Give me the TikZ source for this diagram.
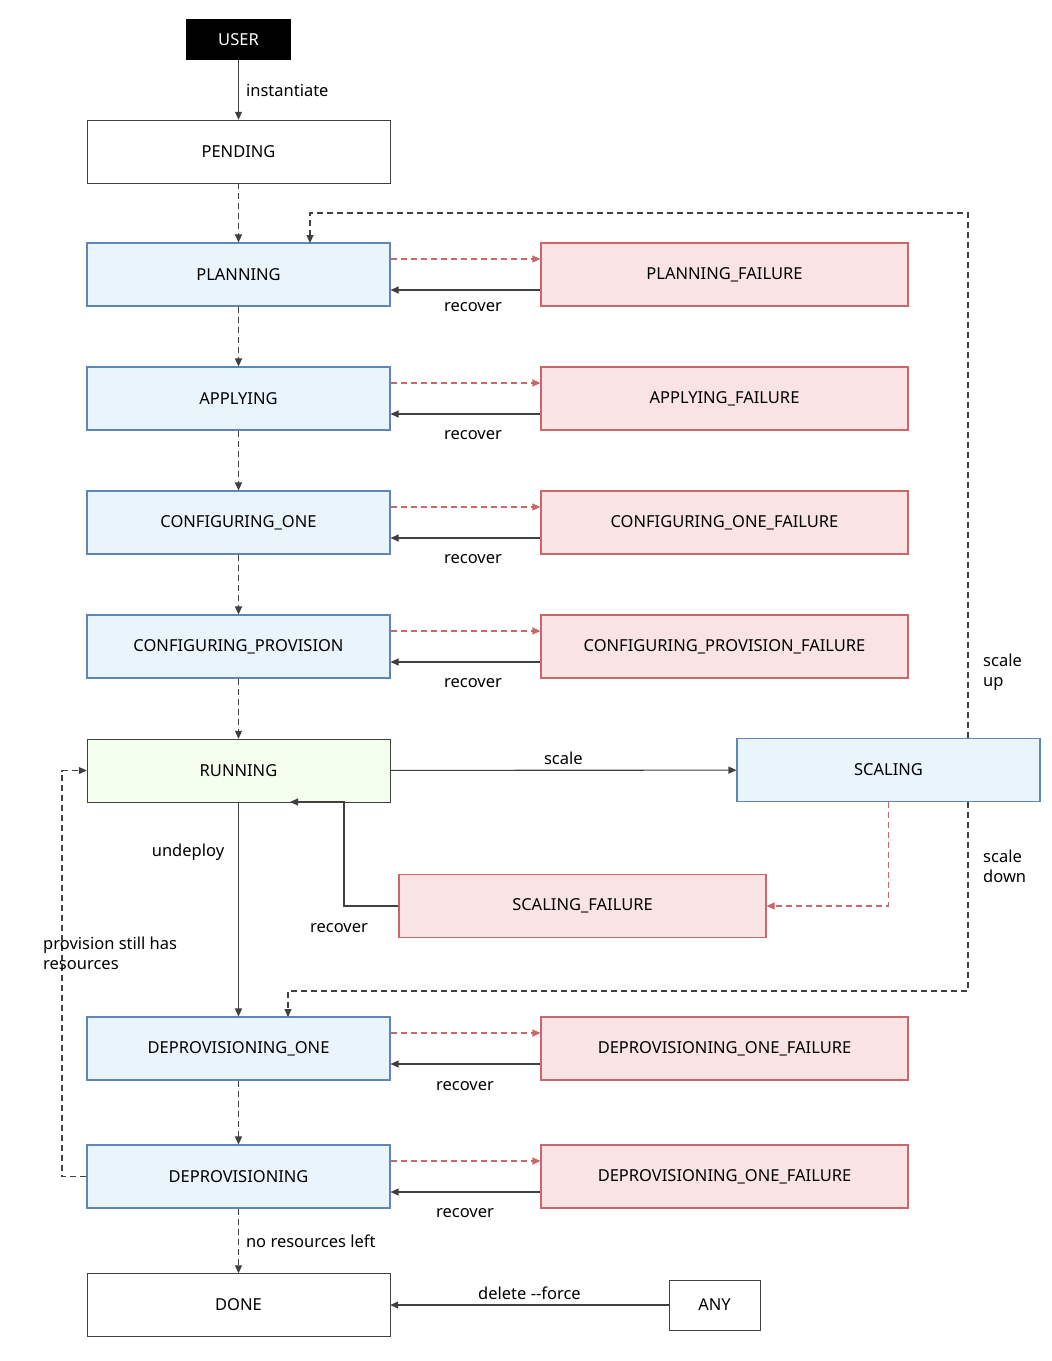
\documentclass[tikz,border=0pt]{standalone}
\usepackage{fontspec}
\setmainfont{Noto Sans}
\usetikzlibrary{arrows.meta}
\definecolor{bfill}{HTML}{EAF4FD}\definecolor{bdraw}{HTML}{5E86B8}
\definecolor{rfill}{HTML}{FAE3E4}\definecolor{rdraw}{HTML}{C9676B}
\definecolor{gfill}{HTML}{F5FFEF}\definecolor{ln}{HTML}{404040}
\begin{document}
\begin{tikzpicture}[x=1pt,y=-1pt,font=\fontsize{16.5}{20}\selectfont,
 box/.style={draw=ln,fill=white,minimum width=303pt,minimum height=63pt,inner sep=0pt},
 bbox/.style={box,draw=bdraw,fill=bfill,line width=1.1pt},
 rbox/.style={box,draw=rdraw,fill=rfill,minimum width=367pt,line width=1.1pt},
 sol/.style={draw=ln,line width=1.1pt,-{Triangle[length=8pt,width=7pt]}},
 das/.style={sol,dashed,dash pattern=on 6pt off 4pt},
 rdas/.style={das,draw=rdraw,-{Triangle[length=8pt,width=7pt]}},
 lab/.style={inner sep=1pt}]
\useasboundingbox (0,0) rectangle (1052,1361);
\node[fill=black,text=white,minimum width=105pt,minimum height=41pt] (user) at (238.5,39.5) {USER};
\node[box] (pend) at (238.5,151.5) {PENDING};
\node[bbox] (plan) at (238.5,274.5) {PLANNING};
\node[bbox] (app) at (238.5,398.5) {APPLYING};
\node[bbox] (c1) at (238.5,522.5) {CONFIGURING\_ONE};
\node[bbox] (cp) at (238.5,646.5) {CONFIGURING\_PROVISION};
\node[box,fill=gfill] (run) at (238.5,770.5) {RUNNING};
\node[bbox] (d1) at (238.5,1048.5) {DEPROVISIONING\_ONE};
\node[bbox] (dp) at (238.5,1176.5) {DEPROVISIONING};
\node[box] (done) at (238.5,1305) {DONE};
\node[rbox] (planf) at (724.5,274.5) {PLANNING\_FAILURE};
\node[rbox] (appf) at (724.5,398.5) {APPLYING\_FAILURE};
\node[rbox] (c1f) at (724.5,522.5) {CONFIGURING\_ONE\_FAILURE};
\node[rbox] (cpf) at (724.5,646.5) {CONFIGURING\_PROVISION\_FAILURE};
\node[rbox] (d1f) at (724.5,1048.5) {DEPROVISIONING\_ONE\_FAILURE};
\node[rbox] (dpf) at (724.5,1176.5) {DEPROVISIONING\_ONE\_FAILURE};
\node[bbox] (sc) at (888.5,770) {SCALING};
\node[rbox] (scf) at (582.5,906) {SCALING\_FAILURE};
\node[box,minimum width=91pt,minimum height=50pt] (any) at (714.5,1305) {\textbf{ANY}};
\draw[sol] (user) -- node[right=6pt,lab]{instantiate} (pend);
\draw[das] (pend) -- (plan);
\draw[das] (plan) -- (app);
\draw[das] (app) -- (c1);
\draw[das] (c1) -- (cp);
\draw[das] (cp) -- (run);
\draw[das] (d1) -- (dp);
\draw[das] (dp) -- node[right=6pt,lab]{no resources left} (done);
\foreach \a/\b in {plan/planf,app/appf,c1/c1f,cp/cpf,d1/d1f,dp/dpf}{
 \draw[rdas] ([yshift=15.5pt]\a.east) -- ([yshift=15.5pt]\b.west);
 \draw[sol] ([yshift=-15.5pt]\b.west) -- ([yshift=-15.5pt]\a.east);
}
\foreach \y/\r in {307/473,435/473,559/473,683/473,1086/465,1213/465}{\node[lab] at (\r,\y) {recover};}
\draw[sol] (run) -- node[above=4pt,lab]{scale} (sc);
\draw[das] ([xshift=79.5pt]sc.north) |- (310,213) -- (310,243);
\node[lab,align=left,anchor=west] at (982,672) {scale\\up};
\draw[das] ([xshift=79.5pt]sc.south) |- (288,991) -- (288,1017);
\node[lab,align=left,anchor=west] at (982,866) {scale\\down};
\draw[rdas] (sc.south) |- (scf.east);
\draw[sol] (scf.west) -| (344,802) -- (290,802);
\node[lab] at (339,928) {recover};
\draw[sol] (run) -- (d1);
\node[lab] at (188,852) {undeploy};
\draw[das] (dp.west) -- (62,1176.5) |- (run.west);
\node[lab,align=left,anchor=west] at (42,953) {provision still has\\resources};
\draw[sol] (any) -- node[above=4pt,lab]{delete {-}{-}force} (done);
\end{tikzpicture}
\end{document}
